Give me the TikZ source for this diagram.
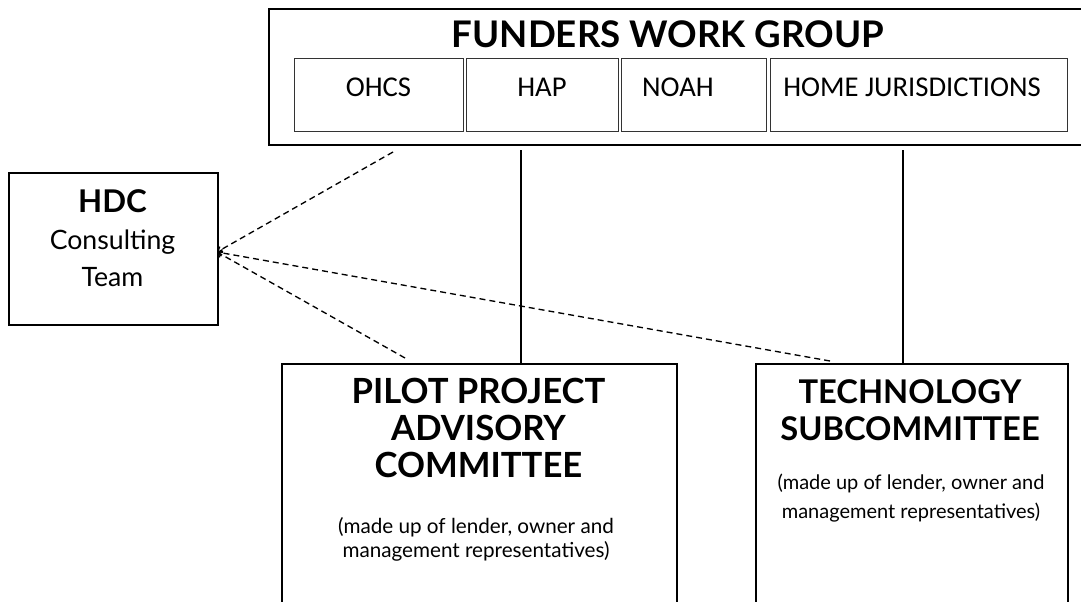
\documentclass[tikz,border=0pt]{standalone}
\usepackage{fontspec}
\usetikzlibrary{arrows.meta}
\setmainfont{Carlito}
\newfontfamily\gillfont{Lato}

\tikzset{every picture/.style={line width=0.75pt}}
\tikzset{
  panel/.style={draw, line width=1.5pt, anchor=north west, inner sep=0},
  unitbox/.style={draw=black!80, line width=1.1pt, anchor=north west, inner sep=0, minimum height=54.75pt},
  unitlabel/.style={font=\fontsize{21.5}{25}\selectfont},
  headlabel/.style={align=center, font=\gillfont\bfseries\fontsize{26}{28}\selectfont},
  notelabel/.style={align=center, font=\gillfont\fontsize{15.5}{18}\selectfont},
  link/.style={dashed, dash pattern=on 4.5pt off 3pt, line width=1pt, -{Straight Barb[length=3pt,width=5pt]}},
  drop/.style={line width=1.1pt}
}

\begin{document}
\begin{tikzpicture}[x=0.75pt,y=0.75pt,yscale=-1,xscale=1]
\path[use as bounding box] (0,0) rectangle (1081,601); %set diagram to 1081 x 601

%Shape: Rectangle [funders work group]
\node[panel, minimum width=616.5pt, minimum height=102pt] (fwg) at (268,8) {};
\node[font=\gillfont\bfseries\fontsize{27.5}{30}\selectfont] (fwgtitle) at (668,34) {FUNDERS WORK GROUP};
%Shape: Rectangle [members]
\node[unitbox, minimum width=126.75pt] (ohcs) at (294,58) {};
\node[unitbox, minimum width=114pt] (hap) at (466,58) {};
\node[unitbox, minimum width=108.75pt] (noah) at (621,58) {};
\node[unitbox, minimum width=222.75pt] (home) at (770,58) {};
\node[unitlabel] (ohcslabel) at (378.5,87) {OHCS};
\node[unitlabel] (haplabel) at (542,87) {HAP};
\node[unitlabel] (noahlabel) at (678,87) {NOAH};
\node[unitlabel] (homelabel) at (912,87) {HOME JURISDICTIONS};

%Shape: Rectangle [hdc]
\node[panel, minimum width=156.75pt, minimum height=114pt] (hdc) at (8,172) {};
\node[align=center, font=\gillfont\fontsize{20}{28}\selectfont] (hdclabel) at (112.5,238)
  {{\bfseries\fontsize{23.5}{28}\selectfont HDC}\\Consulting\\Team};

%Shape: Rectangle [pilot project]
\node[panel, minimum width=296.25pt, minimum height=186pt] (pilot) at (281,363) {};
\node[headlabel] (pilottitle) at (478.5,428) {PILOT PROJECT\\ADVISORY\\COMMITTEE};
\node[notelabel] (pilotnote) at (476,539) {(made up of lender, owner and\\management representatives)};

%Shape: Rectangle [technology]
\node[panel, minimum width=234pt, minimum height=186pt] (tech) at (755,363) {};
\node[headlabel, font=\gillfont\bfseries\fontsize{24.5}{28}\selectfont] (techtitle) at (910,410) {TECHNOLOGY\\SUBCOMMITTEE};
\node[notelabel, font=\gillfont\fontsize{15}{21.75}\selectfont] (technote) at (911,498) {(made up of lender, owner and\\management representatives)};

%Straight Lines [reporting]
\coordinate (hapdrop) at (521,150);
\coordinate (homedrop) at (903,150);
\draw[drop] (hapdrop) -- (hapdrop |- pilot.north);
\draw[drop] (homedrop) -- (homedrop |- tech.north);

%Straight Lines [consulting links]
\coordinate (hdcport) at (217,252);
\coordinate (fwgend) at (393,152);
\coordinate (pilotend) at (405,358);
\coordinate (techend) at (830,361);
\draw[link] (fwgend) -- (hdcport);
\draw[link] (pilotend) -- (hdcport);
\draw[link] (techend) -- (hdcport);

\end{tikzpicture}
\end{document}
